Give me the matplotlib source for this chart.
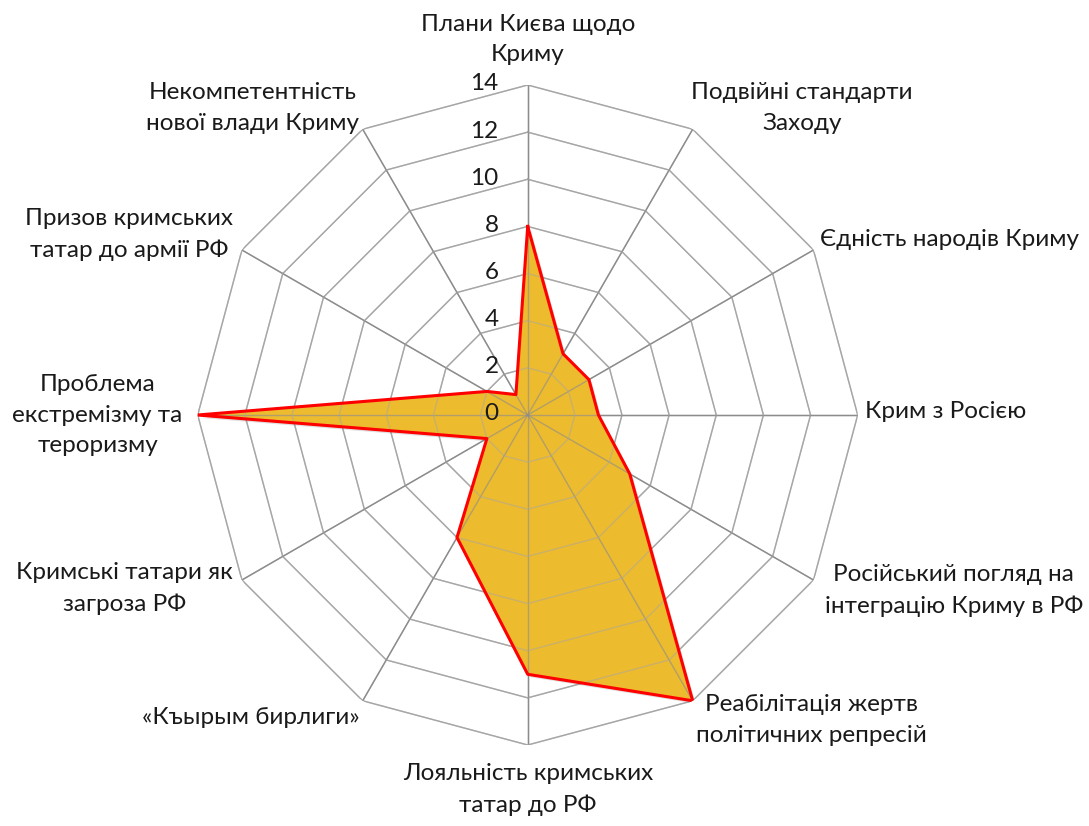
import numpy as np
import matplotlib
matplotlib.use("Agg")
import matplotlib.pyplot as plt
from matplotlib.transforms import ScaledTranslation

categories = [
    "Плани Києва щодо\nКриму",
    "Подвійні стандарти\nЗаходу",
    "Єдність народів Криму",
    "Крим з Росією",
    "Російський погляд на\nінтеграцію Криму в РФ",
    "Реабілітація жертв\nполітичних репресій",
    "Лояльність кримських\nтатар до РФ",
    "«Къырым бирлиги»",
    "Кримські татари як\nзагроза РФ",
    "Проблема\nекстремізму та\nтероризму",
    "Призов кримських\nтатар до армії РФ",
    "Некомпетентність\nнової влади Криму",
]
values = [8, 3, 3, 3, 5, 14, 11, 6, 2, 14, 2, 1]
r_ticks = [0, 2, 4, 6, 8, 10, 12, 14]
r_max = 14

plt.rcParams['font.family'] = ['Lato', 'DejaVu Sans']

W, H = 1089, 826
fig = plt.figure(figsize=(W / 100, H / 100), dpi=100)
cx, cy, R = 527.7, 415, 330
ax = fig.add_axes([(cx - R) / W, (H - cy - R) / H, 2 * R / W, 2 * R / H], projection='polar')
ax.set_theta_zero_location('N')
ax.set_theta_direction(-1)
ax.set_ylim(0, r_max)
ax.grid(False)
ax.spines['polar'].set_visible(False)
ax.set_xticks([])
ax.set_yticks([])
ax.patch.set_alpha(0)

n = len(categories)
angles = np.arange(n) * 2 * np.pi / n
closed = np.append(angles, angles[0])

# polygon rings
for r in r_ticks[1:]:
    ax.plot(closed, [r] * (n + 1), color='#a6a6a6', lw=1.0, zorder=1)
# spokes
for a in angles:
    ax.plot([a, a], [0, r_max], color='#8c8c8c', lw=1.0, zorder=1)

vals = np.append(values, values[0])
# soft shadow
shadow = ScaledTranslation(3 / 100, -3 / 100, fig.dpi_scale_trans)
ax.fill(closed, vals, color='#000000', alpha=0.12, zorder=2,
        transform=ax.transData + shadow, lw=0)
ax.fill(closed, vals, color='#EDBB2E', alpha=1.0, zorder=3, lw=0)
for a in angles:
    ax.plot([a, a], [0, r_max], color='#8c8c8c', lw=1.0, alpha=0.6, zorder=4)
for r in r_ticks[1:]:
    ax.plot(closed, [r] * (n + 1), color='#a6a6a6', lw=1.0, alpha=0.5, zorder=4)
ax.plot(closed, vals, color='#FF0000', lw=2.2, zorder=5)

FS = 17.5
# radial tick labels
off = ScaledTranslation(-29 / 100, 1 / 100, fig.dpi_scale_trans)
for r in r_ticks:
    ax.text(0, r, str(r), ha='right', va='center', fontsize=FS, color='#1a1a1a',
            transform=ax.transData + off, zorder=6)

# category labels: (r, ha, va, dx px, dy px)
placements = [
    (14.85, 'center', 'bottom', 0, 0),
    (14.3, 'left', 'center', -5, 15),
    (14.3, 'left', 'center', 0, 7),
    (14.3, 'left', 'center', 0, 3),
    (14.3, 'left', 'center', 5, -7),
    (14.3, 'left', 'center', 0, -13),
    (14.4, 'center', 'top', 0, -9),
    (14.3, 'right', 'center', 0, -11),
    (14.3, 'right', 'center', -3, -5),
    (14.3, 'right', 'center', -8, 0),
    (14.3, 'right', 'center', -3, 12),
    (14.3, 'right', 'center', 0, 15),
]
for a, lab, (r, ha, va, dx, dy) in zip(angles, categories, placements):
    t = ax.transData + ScaledTranslation(dx / 100, dy / 100, fig.dpi_scale_trans)
    ax.text(a, r, lab, ha=ha, va=va, fontsize=FS, color='#1a1a1a',
            multialignment='center', linespacing=1.55, transform=t, zorder=6)

fig.savefig('out.png', dpi=100)
